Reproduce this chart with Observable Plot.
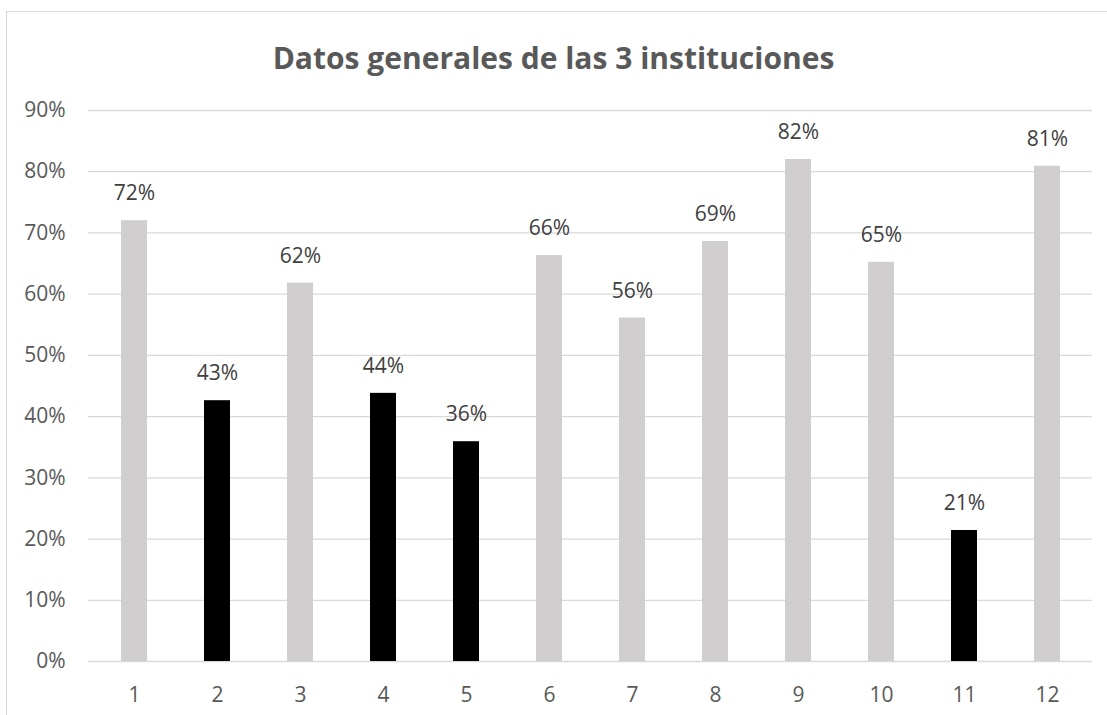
<!DOCTYPE html>
<html>
<head>
<meta charset="utf-8">
<script src="https://cdn.jsdelivr.net/npm/d3@7"></script>
<script src="https://cdn.jsdelivr.net/npm/@observablehq/plot@0.6"></script>
<style>
  html, body { margin: 0; padding: 0; background: #fff; overflow: hidden; }
  #wrap { position: relative; width: 1107px; height: 715px; }
  #frame { position: absolute; left: 6px; top: 11px; width: 1200px; height: 800px;
           border: 1.3px solid #d9d9d9; box-sizing: border-box; }
  #title { position: absolute; left: 0; top: 36px; width: 1107px; text-align: center;
           font-family: "Open Sans", sans-serif; font-weight: 700; font-size: 30px;
           color: #595959; line-height: 44px; }
  #chart { position: absolute; left: 0; top: 90px; }
</style>
</head>
<body>
<div id="wrap">
  <div id="frame"></div>
  <div id="title">Datos generales de las 3 instituciones</div>
  <div id="chart"></div>
</div>
<script>
const categories = ["1","2","3","4","5","6","7","8","9","10","11","12"];
const values = [0.72, 0.426, 0.618, 0.438, 0.359, 0.663, 0.561, 0.686, 0.82, 0.652, 0.214, 0.809];
const labels = ["72%","43%","62%","44%","36%","66%","56%","69%","82%","65%","21%","81%"];
const groups = ["A","B","A","B","B","A","A","A","A","A","B","A"];
const yTicks = [0,0.1,0.2,0.3,0.4,0.5,0.6,0.7,0.8,0.9];

const data = categories.map((c, i) => ({cat: c, value: values[i], label: labels[i], group: groups[i]}));

const chart = Plot.plot({
  width: 1107,
  height: 625,
  marginLeft: 88,
  marginRight: 15,
  marginTop: 20,
  marginBottom: 54,
  style: {fontFamily: "Open Sans, sans-serif", fontSize: "21px", color: "#595959", background: "transparent"},
  x: {domain: categories, paddingInner: 0.69, paddingOuter: 0.345, label: null},
  y: {domain: [0, 0.9], label: null},
  color: {domain: ["A","B"], range: ["#d0cece", "#000000"]},
  marks: [
    Plot.gridY(yTicks, {stroke: "#d9d9d9", strokeOpacity: 1, strokeWidth: 1.3}),
    Plot.barY(data, {x: "cat", y: "value", fill: "group"}),
    Plot.text(data, {x: "cat", y: "value", text: "label", dy: -27, fill: "#404040", fontSize: 21}),
    Plot.axisY(yTicks, {tickSize: 0, tickPadding: 23, tickFormat: d => Math.round(d*100) + "%", fill: "#595959", fontSize: 21, label: null}),
    Plot.axisX({tickSize: 0, tickPadding: 26, fill: "#595959", fontSize: 21, label: null})
  ]
});
document.getElementById("chart").appendChild(chart);
</script>
</body>
</html>
